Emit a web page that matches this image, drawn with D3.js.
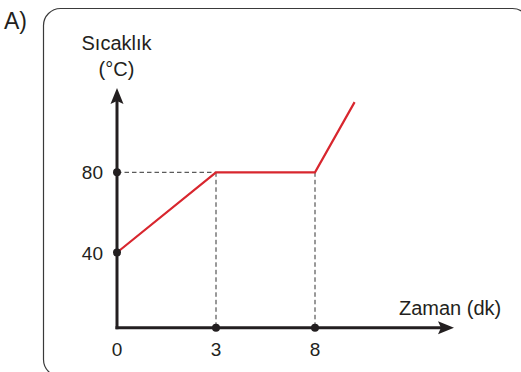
<!DOCTYPE html>
<html>
<head>
<meta charset="utf-8">
<script src="https://cdn.jsdelivr.net/npm/d3@7"></script>
<style>
  html, body { margin: 0; padding: 0; background: #fff; }
  svg { display: block; }
  text { font-family: "Liberation Sans", Arial, sans-serif; fill: #231f20; }
</style>
</head>
<body>
<div id="chart"></div>
<script>
// Heating curve: temperature against time
const timeTicks = [0, 3, 8];           // labelled time marks (dk)
const tempTicks = [40, 80];            // labelled temperature marks (°C)
const times = [0, 3, 8, 10];           // time of each curve vertex
const temps = [40, 80, 80, 115];       // temperature at each vertex
const panelLabel = "A)";
const yTitle = ["Sıcaklık", "(°C)"];
const xTitle = "Zaman (dk)";

const W = 521, H = 372;
const ink = "#231f20", red = "#d8262e";

const svg = d3.select("#chart").append("svg")
  .attr("width", W).attr("height", H);

// rounded panel frame
svg.append("rect")
  .attr("x", 43.5).attr("y", 8.5)
  .attr("width", 486).attr("height", 368)
  .attr("rx", 17).attr("ry", 17)
  .attr("fill", "none").attr("stroke", "#3a3a3a").attr("stroke-width", 1.2);

svg.append("text").attr("x", 4).attr("y", 29)
  .attr("font-size", 23).text(panelLabel);

const origin = { x: 117, y: 327.7 };

// time axis is drawn with equal spacing between the labelled marks
const x = d3.scaleLinear()
  .domain(timeTicks)
  .range([origin.x, origin.x + 99, origin.x + 198]);

const y = d3.scaleLinear()
  .domain([40, 80])
  .range([252.5, 172.3]);

const xEnd = 454, yEnd = 88;

// guide lines to the plateau
const plateau = { t0: times[1], t1: times[2], v: temps[1] };
const dash = g => g.attr("stroke", "#333").attr("stroke-width", 1)
  .attr("stroke-dasharray", "4.5,3").attr("fill", "none");
svg.append("line").call(dash)
  .attr("x1", origin.x).attr("x2", x(plateau.t0))
  .attr("y1", y(plateau.v)).attr("y2", y(plateau.v));
[plateau.t0, plateau.t1].forEach(t => {
  svg.append("line").call(dash)
    .attr("x1", x(t)).attr("x2", x(t))
    .attr("y1", y(plateau.v)).attr("y2", origin.y);
});

// axes
svg.append("line")
  .attr("x1", origin.x).attr("y1", origin.y + 1.5)
  .attr("x2", origin.x).attr("y2", yEnd + 10)
  .attr("stroke", ink).attr("stroke-width", 3);
svg.append("line")
  .attr("x1", origin.x - 1.5).attr("y1", origin.y)
  .attr("x2", xEnd - 10).attr("y2", origin.y)
  .attr("stroke", ink).attr("stroke-width", 3);

// arrow heads
svg.append("path")
  .attr("d", `M${origin.x},${yEnd} L${origin.x + 6.5},${yEnd + 16} L${origin.x},${yEnd + 13} L${origin.x - 6.5},${yEnd + 16} Z`)
  .attr("fill", ink);
svg.append("path")
  .attr("d", `M${xEnd},${origin.y} L${xEnd - 16},${origin.y - 6.5} L${xEnd - 13},${origin.y} L${xEnd - 16},${origin.y + 6.5} Z`)
  .attr("fill", ink);

// heating curve
const pts = times.map((t, i) => ({ t, v: temps[i] }));
svg.append("path")
  .datum(pts)
  .attr("fill", "none").attr("stroke", red).attr("stroke-width", 2.2)
  .attr("stroke-linejoin", "miter")
  .attr("d", d3.line().x(d => x(d.t)).y(d => y(d.v)));

// tick dots
svg.selectAll(".ydot").data(tempTicks).join("circle")
  .attr("cx", origin.x).attr("cy", d => y(d)).attr("r", 4).attr("fill", ink);
svg.selectAll(".xdot").data(timeTicks.slice(1)).join("circle")
  .attr("cx", d => x(d)).attr("cy", origin.y).attr("r", 4).attr("fill", ink);

// tick labels
svg.selectAll(".ylab").data(tempTicks).join("text")
  .attr("x", 103).attr("y", d => y(d) + 7)
  .attr("text-anchor", "end").attr("font-size", 19).text(d => d);
svg.selectAll(".xlab").data(timeTicks).join("text")
  .attr("x", d => x(d)).attr("y", 356)
  .attr("text-anchor", "middle").attr("font-size", 19).text(d => d);

// axis titles
svg.append("text").attr("x", 116.5).attr("y", 50)
  .attr("text-anchor", "middle").attr("font-size", 20).text(yTitle[0]);
svg.append("text").attr("x", 116.5).attr("y", 76)
  .attr("text-anchor", "middle").attr("font-size", 20).text(yTitle[1]);
svg.append("text").attr("x", 399).attr("y", 315)
  .attr("font-size", 20).text(xTitle);
</script>
</body>
</html>
